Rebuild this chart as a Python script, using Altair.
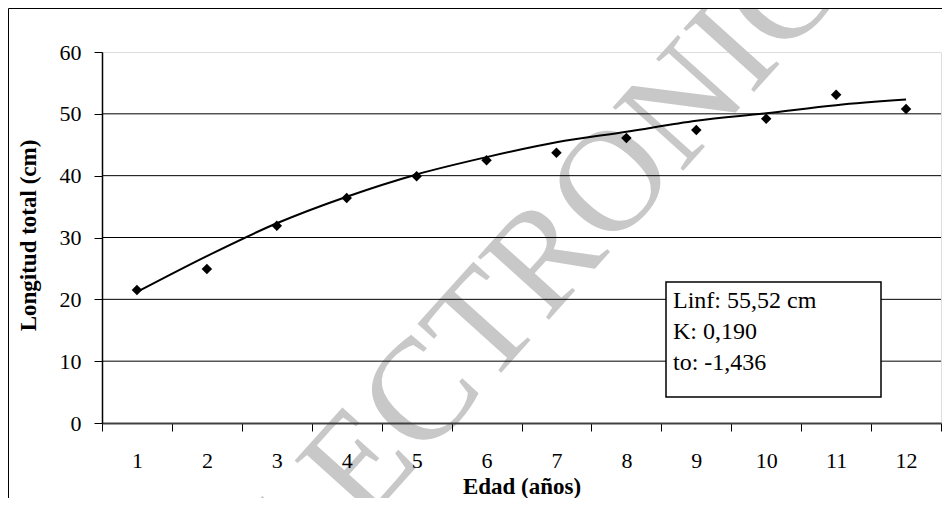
import altair as alt
import pandas as pd

edad = [1, 2, 3, 4, 5, 6, 7, 8, 9, 10, 11, 12]
longitud_obs = [21.5, 24.9, 31.9, 36.4, 39.9, 42.5, 43.7, 46.1, 47.4, 49.2, 53.1, 50.8]
longitud_curva = [21.2, 27.0, 32.3, 36.6, 40.2, 43.0, 45.4, 47.1, 48.9, 50.1, 51.4, 52.3]
y_grid = [10, 20, 30, 40, 50]
caja_texto = ["Linf: 55,52 cm", "K: 0,190", "to: -1,436"]
marca_agua = "ELECTRONICA"

FONT = "Liberation Serif"
W, H = 839, 371

df = pd.DataFrame({"edad": [str(e) for e in edad], "obs": longitud_obs, "curva": longitud_curva})
grid_df = pd.DataFrame({"v": y_grid})

x_enc = alt.X(
    "edad:N",
    sort=[str(e) for e in edad],
    bandPosition=0.5,
    scale=alt.Scale(type="band", paddingInner=0, paddingOuter=0),
    axis=alt.Axis(
        title="Edad (años)", labelAngle=0, tickBand="extent", tickSize=8,
        labelPadding=19, labelFont=FONT, labelFontSize=22, labelColor="#000",
        titleFont=FONT, titleFontSize=23, titleFontWeight="bold", titleColor="#000",
        titleY=70, titleBaseline="alphabetic",
        domainColor="#404040", domainWidth=2, tickColor="#000", tickWidth=1,
        grid=False, zindex=1,
    ),
)
y_scale = alt.Scale(domain=[0, 60], nice=False, zero=True)
y_axis = alt.Axis(
    title="Longitud total (cm)", values=[0, 10, 20, 30, 40, 50, 60], tickSize=8,
    labelPadding=13, labelFont=FONT, labelFontSize=22, labelColor="#000",
    titleFont=FONT, titleFontSize=23, titleFontWeight="bold", titleColor="#000",
    titleX=-67, titleY=183, titleBaseline="alphabetic", titleAngle=270,
    domainColor="#000", domainWidth=1.5, tickColor="#000",
    grid=False, zindex=1,
)

base = alt.Chart(df)
one = "datum.edad == '1'"

watermark = base.mark_text(
    font=FONT, fontSize=145, color="#c8c8c8", angle=312,
    align="center", baseline="middle", clip=False,
).encode(x=alt.value(446), y=alt.value(203), text=alt.value(marca_agua)).transform_filter(one)

grid = alt.Chart(grid_df).mark_rule(color="#000", strokeWidth=1).encode(
    y=alt.Y("v:Q", scale=y_scale, axis=y_axis)
)

frame_top = base.mark_rule(color="#000", strokeWidth=1, clip=False).encode(
    x=alt.value(-93.5), x2=alt.value(W + 2), y=alt.value(-43.5)
).transform_filter(one)
frame_left = base.mark_rule(color="#000", strokeWidth=1, clip=False).encode(
    x=alt.value(-93.5), y=alt.value(-43.5), y2=alt.value(H + 80)
).transform_filter(one)

line = base.mark_line(color="#000", strokeWidth=2, interpolate="monotone").encode(
    x=x_enc, y=alt.Y("curva:Q", scale=y_scale, axis=y_axis)
)
points = base.mark_point(shape="diamond", filled=True, color="#000", size=110, opacity=1).encode(
    x=x_enc, y=alt.Y("obs:Q", scale=y_scale, axis=y_axis)
)

box = base.mark_rect(fill="#fff", stroke="#000", strokeWidth=1.5).encode(
    x=alt.value(564), x2=alt.value(779), y=alt.value(230), y2=alt.value(345)
).transform_filter(one)
box_text = base.mark_text(
    font=FONT, fontSize=24, color="#000", align="left", baseline="top", lineHeight=31
).encode(x=alt.value(571), y=alt.value(237), text=alt.value(caja_texto)).transform_filter(one)

chart = alt.layer(
    watermark, grid, frame_top, frame_left, line, points, box, box_text
).properties(
    width=W, height=H,
    autosize=alt.AutoSizeParams(type="none"),
    padding={"left": 94, "top": 44, "right": 1, "bottom": 75},
).configure_view(stroke="#808080", strokeWidth=1.5).configure(background="#ffffff")

chart.save("out.html", embed_options={"renderer": "svg", "actions": False})
